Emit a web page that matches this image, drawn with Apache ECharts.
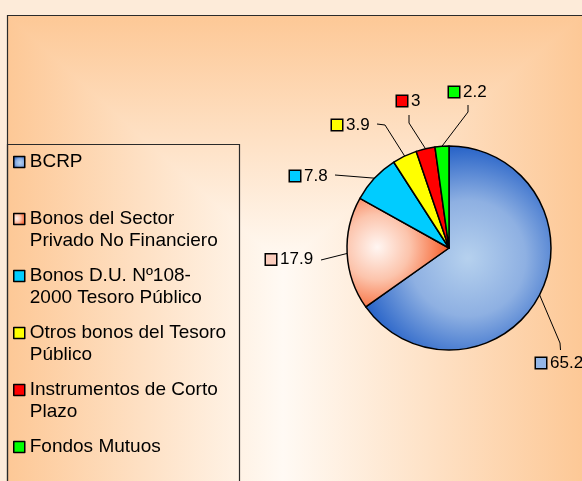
<!DOCTYPE html>
<html>
<head>
<meta charset="utf-8">
<script src="https://cdn.jsdelivr.net/npm/echarts@6/dist/echarts.min.js"></script>
<style>
  html, body { margin: 0; padding: 0; background: #fdebd9; }
  #pieChart { width: 582px; height: 481px; }
</style>
</head>
<body>
<div id="pieChart"></div>
<script>
// datos de la cartera (%)
const categories = [
  'BCRP',
  'Bonos del Sector\nPrivado No Financiero',
  'Bonos D.U. Nº108-\n2000 Tesoro Público',
  'Otros bonos del Tesoro\nPúblico',
  'Instrumentos de Corto\nPlazo',
  'Fondos Mutuos'
];
const values = [65.2, 17.9, 7.8, 3.9, 3, 2.2];

// colores
const sliceColors = [
  new echarts.graphic.RadialGradient(0.55, 0.55, 0.62, [
    { offset: 0, color: '#b6d1ee' },
    { offset: 0.5, color: '#8eb0e2' },
    { offset: 1, color: '#215ec6' }
  ]),
  new echarts.graphic.RadialGradient(0.3, 0.45, 0.7, [
    { offset: 0, color: '#fff6f2' },
    { offset: 0.45, color: '#fcc4ac' },
    { offset: 1, color: '#f65a24' }
  ]),
  '#00ccff', '#ffff00', '#ff0000', '#00ff00'
];
const markerColors = ['#94b6e6', '#fbcdbd', '#00ccff', '#ffff00', '#ff0000', '#00ff00'];

// posicion de etiquetas (esquina del cuadrito) y codos de las lineas guia
const labelSpots = [[536, 363], [266, 259.5], [290, 176], [332, 125], [397, 101], [449, 92]];
const guideBends = [
  [[560, 343], [560.5, 350]],
  [[321, 260]],
  [[335, 175]],
  [[385, 125], [377, 124]],
  [[409, 123], [409, 115]],
  [[468, 112], [468, 105]]
];

const peach = '#fdc896';
const light = '#fffaf4';

const rich = { v: { fontSize: 17, color: '#000', padding: [0, 0, 0, 4], fontFamily: 'Liberation Sans' } };
markerColors.forEach((c, i) => {
  rich['m' + i] = { width: 10, height: 10, backgroundColor: c, borderColor: '#000', borderWidth: 1.5 };
});

const myChart = echarts.init(document.getElementById('pieChart'));
myChart.setOption({
  animation: false,
  backgroundColor: '#fdebd9',
  textStyle: { fontFamily: 'Liberation Sans' },
  graphic: [
    {
      type: 'rect', z: -10,
      shape: { x: 7, y: 15, width: 600, height: 500 },
      style: {
        fill: new echarts.graphic.LinearGradient(0, 0, 1, 0, [
          { offset: 0, color: peach },
          { offset: 0.46, color: light },
          { offset: 0.96, color: peach }
        ])
      }
    },
    {
      type: 'rect', z: -9,
      shape: { x: 7, y: 15, width: 600, height: 500 },
      style: {
        blend: 'darken',
        fill: new echarts.graphic.LinearGradient(0, 0, 0, 1, [
          { offset: 0, color: peach },
          { offset: 0.5, color: light },
          { offset: 1, color: light }
        ])
      }
    },
    {
      type: 'rect', z: -8,
      shape: { x: 7.5, y: 15.5, width: 600, height: 500 },
      style: { fill: 'none', stroke: '#2a2a2a', lineWidth: 1.2 }
    },
    {
      type: 'rect', z: -8,
      shape: { x: 7.5, y: 144.5, width: 232, height: 400 },
      style: { fill: 'none', stroke: '#2a2a2a', lineWidth: 1.2 }
    }
  ],
  legend: {
    orient: 'vertical',
    left: 13,
    top: 129,
    padding: 0,
    itemWidth: 11,
    itemHeight: 11,
    itemGap: -9,
    icon: 'rect',
    itemStyle: { borderColor: '#000', borderWidth: 1.5 },
    // linea vacia arriba para que el cuadrito quede junto a la primera linea
    formatter: name => ' \n' + (name.indexOf('\n') < 0 ? name + '\n ' : name),
    textStyle: {
      fontSize: 19,
      lineHeight: 22,
      color: '#000',
      fontFamily: 'Liberation Sans'
    },
    data: categories
  },
  series: [
    {
      name: 'Cartera',
      type: 'pie',
      center: [449, 248],
      radius: 102,
      startAngle: 90,
      clockwise: true,
      avoidLabelOverlap: false,
      itemStyle: { borderColor: '#000', borderWidth: 1.5 },
      label: {
        show: true,
        position: 'outside',
        formatter: p => '{m' + p.dataIndex + '|}{v|' + p.value + '}',
        rich: rich
      },
      labelLine: {
        show: true,
        length: 15,
        length2: 10,
        lineStyle: { color: '#000', width: 1 }
      },
      labelLayout: params => {
        const i = params.dataIndex;
        const start = params.labelLinePoints ? params.labelLinePoints[0] : null;
        const out = {
          x: labelSpots[i][0],
          y: labelSpots[i][1],
          align: 'left',
          verticalAlign: 'middle'
        };
        if (start) out.labelLinePoints = [start].concat(guideBends[i]);
        return out;
      },
      emphasis: { disabled: true },
      data: categories.map((name, i) => ({
        name: name,
        value: values[i],
        itemStyle: { color: sliceColors[i] }
      }))
    }
  ]
});
</script>
</body>
</html>
